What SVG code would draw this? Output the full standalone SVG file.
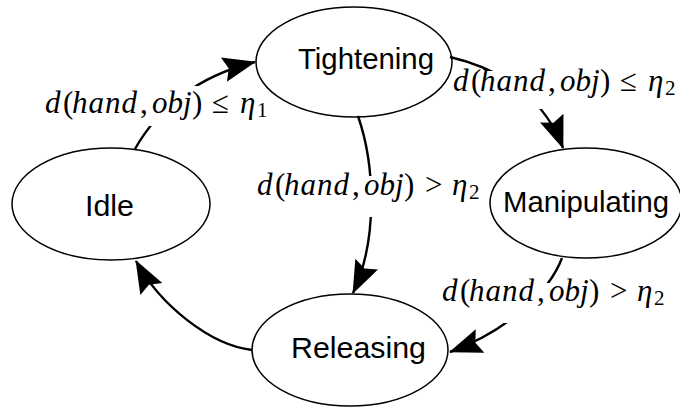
<svg xmlns="http://www.w3.org/2000/svg" width="680" height="407" viewBox="0 0 680 407">
<style>
.node ellipse{fill:none;stroke:#000;stroke-width:1.5}
.node text{font-family:"Liberation Sans",Arial,sans-serif;font-size:29px;fill:#000}
.edge path{fill:none;stroke:#000;stroke-width:2.4}
.lbl rect{fill:#fff;stroke:none}
.lbl text{font-family:"Liberation Serif","Times New Roman",serif;font-size:31px;fill:#000}
.it{font-style:italic}
.sub{font-size:21px}
</style>
<defs>
<marker id="ah" markerUnits="userSpaceOnUse" markerWidth="36" markerHeight="30" viewBox="-34 -15 36 30" refX="0" refY="0" orient="auto">
<path d="M1,0 L-32,-12.5 L-27,0 L-32,12.5 Z" fill="#000"/>
</marker>
</defs>
<g id="connectors">
<g class="edge" id="e1"><path d="M135,149 C158,108 198,76 255,62" marker-end="url(#ah)"/></g>
<g class="edge" id="e2"><path d="M450,57 C505,70 545,100 563,148" marker-end="url(#ah)"/></g>
<g class="edge" id="e3"><path d="M358,116 C375,165 378,240 353,293" marker-end="url(#ah)"/></g>
<g class="edge" id="e4"><path d="M562,258 C550,290 510,330 450,352" marker-end="url(#ah)"/></g>
<g class="edge" id="e5"><path d="M252,350 C210,345 160,305 136,261" marker-end="url(#ah)"/></g>
<g class="lbl" id="l1">
<rect x="42" y="86" width="228" height="40"/>
<text y="113"><tspan x="45" class="it">d</tspan><tspan x="63">(</tspan><tspan x="72" class="it" letter-spacing="1">hand</tspan><tspan x="140">,</tspan><tspan x="152" class="it">obj</tspan><tspan x="192">)</tspan><tspan x="212">≤</tspan><tspan x="240" class="it">η</tspan><tspan x="257" dy="4" class="sub">1</tspan></text>
</g>
<g class="lbl" id="l2">
<rect x="451" y="71" width="226" height="38"/>
<text y="91"><tspan x="453" class="it">d</tspan><tspan x="471">(</tspan><tspan x="480" class="it" letter-spacing="1">hand</tspan><tspan x="548">,</tspan><tspan x="560" class="it">obj</tspan><tspan x="600">)</tspan><tspan x="620">≤</tspan><tspan x="648" class="it">η</tspan><tspan x="665" dy="4" class="sub">2</tspan></text>
</g>
<g class="lbl" id="l3">
<rect x="255" y="176" width="228" height="41"/>
<text y="195"><tspan x="257" class="it">d</tspan><tspan x="275">(</tspan><tspan x="284" class="it" letter-spacing="1">hand</tspan><tspan x="352">,</tspan><tspan x="364" class="it">obj</tspan><tspan x="404">)</tspan><tspan x="425">&gt;</tspan><tspan x="452" class="it">η</tspan><tspan x="469" dy="4" class="sub">2</tspan></text>
</g>
<g class="lbl" id="l4">
<rect x="440" y="283" width="227" height="40"/>
<text y="301"><tspan x="442" class="it">d</tspan><tspan x="460">(</tspan><tspan x="469" class="it" letter-spacing="1">hand</tspan><tspan x="537">,</tspan><tspan x="549" class="it">obj</tspan><tspan x="589">)</tspan><tspan x="610">&gt;</tspan><tspan x="637" class="it">η</tspan><tspan x="654" dy="4" class="sub">2</tspan></text>
</g>
</g>
<g class="node" id="tightening"><ellipse cx="354" cy="62" rx="98" ry="55"/><text x="298" y="69" textLength="136" lengthAdjust="spacingAndGlyphs">Tightening</text></g>
<g class="node" id="idle"><ellipse cx="111" cy="204" rx="99" ry="56"/><text x="85" y="216" textLength="49" lengthAdjust="spacingAndGlyphs">Idle</text></g>
<g class="node" id="manipulating"><ellipse cx="586" cy="203" rx="96" ry="55"/><text x="503" y="212" textLength="166" lengthAdjust="spacingAndGlyphs">Manipulating</text></g>
<g class="node" id="releasing"><ellipse cx="350" cy="350" rx="98" ry="56"/><text x="291" y="358" textLength="135" lengthAdjust="spacingAndGlyphs">Releasing</text></g>
</svg>
